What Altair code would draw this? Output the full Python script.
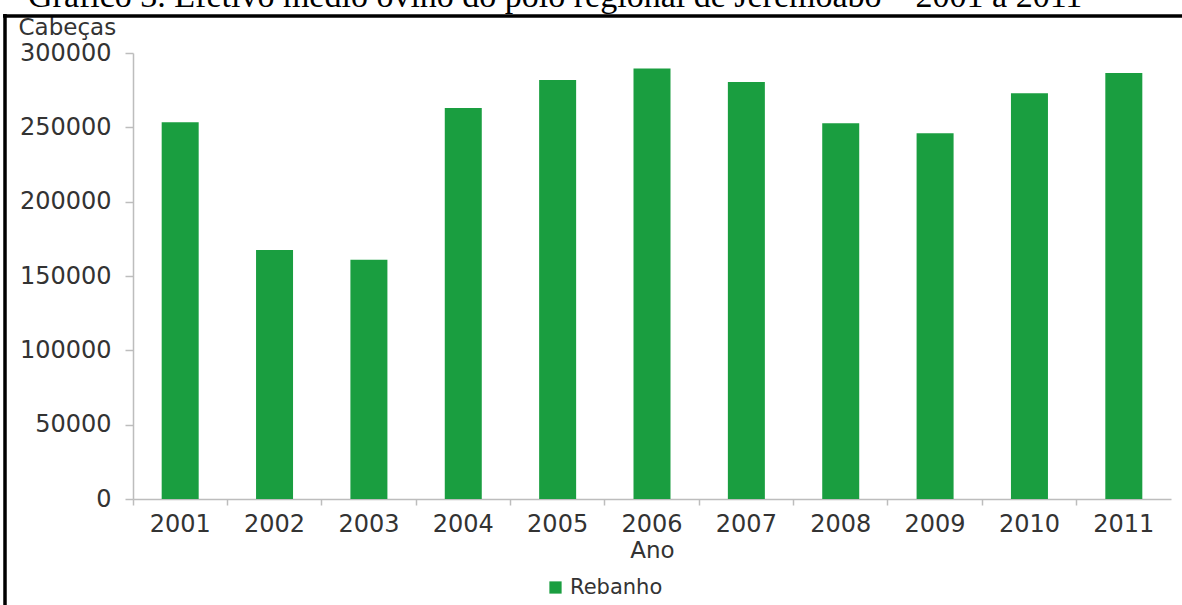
import altair as alt
import pandas as pd

# ---- data ----
anos = ["2001", "2002", "2003", "2004", "2005", "2006", "2007", "2008", "2009", "2010", "2011"]
rebanho = [253500, 167500, 161000, 263000, 281800, 289500, 280500, 252800, 246000, 273000, 286500]
serie = ["Rebanho"] * len(anos)
y_ticks = [0, 50000, 100000, 150000, 200000, 250000, 300000]
titulo = "Gráfico 3. Efetivo médio ovino do polo regional de Jeremoabo – 2001 a 2011"

df = pd.DataFrame({"Ano": anos, "Cabeças": rebanho, "Série": serie})
one = pd.DataFrame({"t": [titulo]})

W, H = 1023, 446
PAD_L, PAD_T = 133, 53
FONT = "DejaVu Sans"
TXT = "#333333"
AX = "#bdbdbd"
GREEN = "#1a9e40"

bars = alt.Chart(df).mark_bar(size=37, color=GREEN).encode(
    x=alt.X(
        "Ano:N",
        sort=anos,
        scale=alt.Scale(paddingInner=0, paddingOuter=0, range=[0, 1038]),
        axis=alt.Axis(
            title="Ano", labelAngle=0, bandPosition=0, labelFont=FONT, labelFontSize=24,
            labelColor=TXT, labelPadding=7, titleFont=FONT, titleFontSize=23,
            titleFontWeight="normal", titleColor=TXT, titlePadding=3,
            domainColor=AX, tickColor=AX, tickSize=6, domainWidth=1.5, tickWidth=1.5,
        ),
    ),
    y=alt.Y(
        "Cabeças:Q",
        scale=alt.Scale(domain=[0, 300000], nice=False),
        axis=alt.Axis(
            values=y_ticks, format="d", grid=False, title="Cabeças", titleAngle=0,
            titleAlign="left", titleBaseline="middle", titleX=18 - PAD_L, titleY=27 - PAD_T,
            titleFont=FONT, titleFontSize=23, titleFontWeight="normal", titleColor=TXT,
            labelFont=FONT, labelFontSize=24, labelColor=TXT, labelPadding=14,
            domainColor=AX, tickColor=AX, tickSize=8, domainWidth=1.5, tickWidth=1.5,
        ),
    ),
    color=alt.Color(
        "Série:N",
        scale=alt.Scale(range=[GREEN]),
        legend=alt.Legend(
            title=None, orient="none", legendX=545 - PAD_L, legendY=577 - PAD_T,
            symbolType="square", symbolSize=150, symbolStrokeWidth=0,
            labelFont=FONT, labelFontSize=21, labelColor=TXT, labelOffset=4,
        ),
    ),
)

title_txt = alt.Chart(one).mark_text(
    font="Liberation Serif", fontSize=34, align="left", baseline="alphabetic", color="black"
).encode(text="t:N", x=alt.value(28 - PAD_L), y=alt.value(7 - PAD_T))

border_top = alt.Chart(one).mark_rule(color="black", strokeWidth=3.5).encode(
    x=alt.value(3 - PAD_L), x2=alt.value(1182 - PAD_L), y=alt.value(16 - PAD_T)
)
border_left = alt.Chart(one).mark_rule(color="black", strokeWidth=3.5).encode(
    x=alt.value(5 - PAD_L), y=alt.value(14 - PAD_T), y2=alt.value(605 - PAD_T)
)

chart = alt.layer(bars, title_txt, border_top, border_left).properties(
    width=W, height=H,
    autosize=alt.AutoSizeParams(type="none"),
    padding={"left": PAD_L, "top": PAD_T, "right": 1182 - PAD_L - W, "bottom": 605 - PAD_T - H},
    background="white",
).configure_view(stroke=None)

chart.save("out.html", embed_options={"renderer": "svg", "actions": False})
